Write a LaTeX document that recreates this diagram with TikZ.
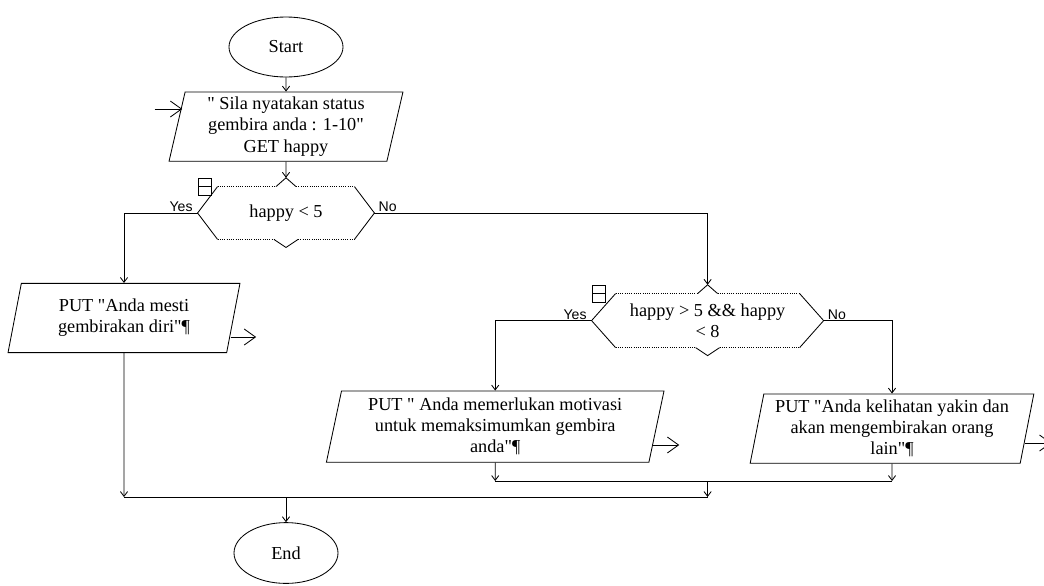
\documentclass[tikz,border=0pt]{standalone}
\usepackage{fontspec}
\setmainfont{Liberation Serif}[Ligatures=TeXOff]
\newfontfamily\lblfont{Liberation Sans}
\usepackage{tikz}
\usetikzlibrary{arrows.meta, shapes.geometric, positioning}

\newcommand{\choiceline}[2]{%
  \draw (#1.west) -- ([xshift=#2]#1.north west) (#1.west) -- ([xshift=#2]#1.south west)
        (#1.east) -- ([xshift=-#2]#1.north east) (#1.east) -- ([xshift=-#2]#1.south east);
  \draw[densely dotted] ([xshift=#2]#1.north west) -- ([xshift=-0.25cm]#1.north)
        ([xshift=0.25cm]#1.north) -- ([xshift=-#2]#1.north east)
        ([xshift=#2]#1.south west) -- ([xshift=-0.3cm]#1.south)
        ([xshift=0.3cm]#1.south) -- ([xshift=-#2]#1.south east);
  \draw ([xshift=-0.25cm]#1.north) -- ([yshift=0.22cm]#1.north) -- ([xshift=0.25cm]#1.north)
        ([xshift=-0.3cm]#1.south) -- ([yshift=-0.2cm]#1.south) -- ([xshift=0.3cm]#1.south);
}

\begin{document}
\begin{tikzpicture}[node distance=2cm, on grid, line width=0.6pt,
  font=\fontsize{13}{15}\selectfont,
  term/.style={ellipse, draw, minimum width=2.85cm, minimum height=1.5cm},
  io/.style={trapezium, trapezium left angle=79, trapezium right angle=101, trapezium stretches=true, draw, align=center, minimum height=1.73cm},
  choice/.style={rectangle, align=center, minimum height=1.3cm},
  flag/.style={rectangle, draw, minimum width=0.32cm, minimum height=0.42cm, inner sep=0pt, path picture={\draw (path picture bounding box.west) -- (path picture bounding box.east);}},
  lbl/.style={font=\lblfont\fontsize{10}{12}\selectfont, inner sep=1pt},
  flow/.style={-{Straight Barb[length=1.2mm, width=1.8mm]}},
  exit/.style={-{Straight Barb[length=2.8mm, width=4mm]}}]

  \useasboundingbox (0,0) rectangle (26.1,-14.625);

  \node[term] (start) at (7.15,-1.175) {Start};
  \node[io, minimum width=5.85cm, below=1.99cm of start] (in) {" Sila nyatakan status\\gembira anda : 1-10"\\GET happy};
  \node[choice, minimum width=4.4cm, below=2.16cm of in] (d1) {happy < 5};
  \node[io, minimum width=5.8cm, below left=2.625cm and 4.05cm of d1] (out1) {PUT "Anda mesti\\gembirakan diri"¶};
  \node[choice, minimum width=5.78cm, minimum height=1.33cm, below right=2.69cm and 10.54cm of d1] (d2) {happy > 5 \&\& happy\\< 8};
  \node[io, minimum width=8.45cm, minimum height=1.78cm, below left=2.65cm and 5.31cm of d2] (out2) {PUT " Anda memerlukan motivasi\\untuk memaksimumkan gembira\\anda"¶};
  \node[io, minimum width=7.1cm, below right=2.7cm and 4.61cm of d2] (out3) {PUT "Anda kelihatan yakin dan\\akan mengembirakan orang\\lain"¶};
  \node[term, minimum width=2.6cm, minimum height=1.52cm, below=12.65cm of start] (end) {End};

  \choiceline{d1}{0.5cm}
  \choiceline{d2}{0.6cm}

  \node[flag] (f1) at ([shift={(0.18cm,0.66cm)}]d1.west) {};
  \node[flag] (f2) at ([shift={(0.18cm,0.67cm)}]d2.west) {};

  \node[lbl, anchor=base east] (yes1) at ([shift={(-0.08cm,0.04cm)}]d1.west) {Yes};
  \node[lbl, anchor=base west] (no1) at ([shift={(0.06cm,0.04cm)}]d1.east) {No};
  \node[lbl, anchor=base east] (yes2) at ([shift={(-0.08cm,0.04cm)}]d2.west) {Yes};
  \node[lbl, anchor=base west] (no2) at ([shift={(0.06cm,0.04cm)}]d2.east) {No};

  \coordinate[above=1.4cm of end] (j1);
  \coordinate[above=0.4cm of j1] (j2);

  \draw[flow] (start.south) -- (in.north);
  \draw[flow] (in.south) -- ([yshift=0.22cm]d1.north);
  \draw[flow] (d1.west) -| (out1);
  \draw[flow] (d1.east) -| ([yshift=0.22cm]d2.north);
  \draw[flow] (d2.west) -| (out2);
  \draw[flow] (d2.east) -| (out3);

  \draw[flow] (out1) -- (out1 |- j1);
  \draw[flow] (out2) -- (out2 |- j2);
  \draw[flow] (out3) -- (out3 |- j2);
  \draw (out2 |- j2) -- (out3 |- j2);
  \draw[flow] (d2 |- j2) -- (d2 |- j1);
  \draw (out1 |- j1) -- (d2 |- j1);
  \draw[flow] (j1) -- (end);

  \coordinate (x0) at ([shift={(-0.55cm,0.44cm)}]in.west);
  \coordinate (x1) at ([shift={(0.56cm,-0.475cm)}]out1.east);
  \coordinate (x2) at ([shift={(0.56cm,-0.46cm)}]out2.east);
  \coordinate (x3) at ([shift={(0.6cm,-0.36cm)}]out3.east);

  \draw[exit] (x0) -- ([shift={(0.14cm,0.44cm)}]in.west);
  \draw[exit] ([shift={(-0.075cm,-0.475cm)}]out1.east) -- (x1);
  \draw[exit] ([shift={(-0.09cm,-0.46cm)}]out2.east) -- (x2);
  \draw[exit] ([shift={(-0.06cm,-0.36cm)}]out3.east) -- (x3);

\end{tikzpicture}
\end{document}
